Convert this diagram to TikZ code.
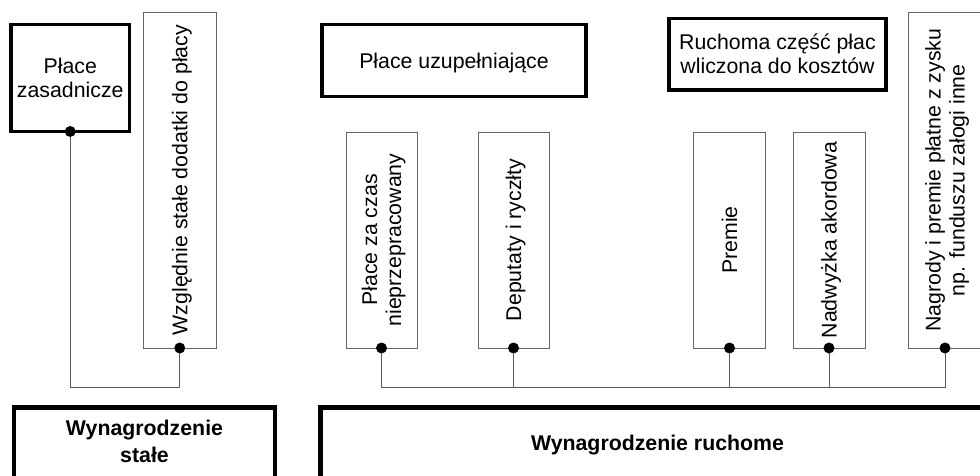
\documentclass[tikz,border=0pt]{standalone}
\usepackage{fontspec}
\setmainfont{Liberation Sans}
\newcommand{\ctr}[2]{\raisebox{0pt}[15.3pt][#1]{\begin{tabular}[t]{@{}c@{}}#2\end{tabular}}}
\newcommand{\vctr}[2]{\rotatebox{90}{\ctr{#1}{#2}}}
\tikzset{
  txt/.style={font=\fontsize{21.3}{24}\selectfont, inner sep=0pt, outer sep=0pt, align=center},
  thickbox/.style={txt, draw=black, line width=3.8pt, rectangle},
  thinbox/.style={txt, draw=black!60, line width=1pt, rectangle},
  bigbox/.style={draw=black, line width=4.8pt, rectangle, inner sep=0pt, outer sep=0pt},
  boldtxt/.style={font=\fontsize{21.3}{27}\selectfont\bfseries, inner sep=0pt, outer sep=0pt},
  conn/.style={draw=black!65, line width=1pt},
  dot/.style={fill=black}
}
\begin{document}
\begin{tikzpicture}[x=1pt,y=-1pt]
\useasboundingbox (0,0) rectangle (980,475);
\clip (0,0) rectangle (980,475);

% top boxes
\node[thickbox, minimum width=118.5, minimum height=107] (pz) at (70.25,78) {\ctr{24pt}{Płace\\zasadnicze}};
\node[thinbox, minimum width=72.5, minimum height=335.7] (wz) at (179.75,180.15) {\vctr{0pt}{Względnie stałe dodatki do płacy}};
\node[thickbox, minimum width=264, minimum height=72] (pu) at (454,60.5) {\ctr{0pt}{Płace uzupełniające}};
\node[thickbox, minimum width=217, minimum height=71.5] (rc) at (777.5,54.25) {\ctr{24pt}{Ruchoma część płac\\wliczona do kosztów}};

\node[thinbox, minimum width=71, minimum height=216] (pc) at (381.5,240) {\vctr{24pt}{Płace za czas\\nieprzepracowany}};
\node[thinbox, minimum width=71, minimum height=216] (dr) at (513.5,240) {\vctr{0pt}{Deputaty i ryczłty}};
\node[thinbox, minimum width=72.5, minimum height=216] (pr) at (729.5,240) {\vctr{0pt}{Premie}};
\node[thinbox, minimum width=72, minimum height=216] (nw) at (829,240) {\vctr{0pt}{Nadwyżka akordowa}};
\node[thinbox, minimum width=72.5, minimum height=335.7] (ng) at (945,180.15) {\vctr{24pt}{Nagrody i premie płatne z zysku\\np. funduszu załogi inne}};

% bottom boxes
\node[bigbox, minimum width=261, minimum height=92.5] (ws) at (144.5,453.75) {};
\node[boldtxt, anchor=base] (wst) at (144.5,435) {\begin{tabular}[t]{@{}c@{}}Wynagrodzenie\\stałe\end{tabular}};
\node[bigbox, minimum width=674.5, minimum height=92.5] (wr) at (657.75,453.75) {};
\node[boldtxt, anchor=base] (wrt) at (657.5,450) {Wynagrodzenie ruchome};

% connectors
\coordinate (b1) at (0,387);
\draw[conn] (pz.south) |- (b1 -| wz.south) -- (wz.south);
\draw[conn] (pc.south) |- (b1 -| ng.south) -- (ng.south);
\draw[conn] (dr.south) -- (dr.south |- b1);
\draw[conn] (pr.south) -- (pr.south |- b1);
\draw[conn] (nw.south) -- (nw.south |- b1);

\foreach \n in {pz,wz,pc,dr,pr,nw,ng} \fill[dot] (\n.south) circle (5.5pt);
\end{tikzpicture}
\end{document}
